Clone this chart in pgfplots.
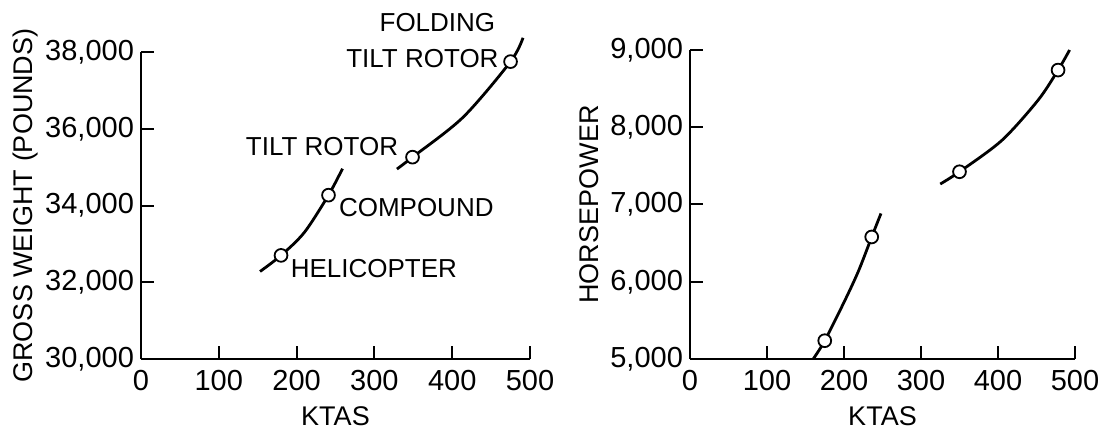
\documentclass[border=0pt]{standalone}
\usepackage{fontspec}
\setmainfont{Liberation Sans}
\usepackage{pgfplots}
\pgfplotsset{compat=1.18}

\pgfplotsset{
  panel/.style={
    scale only axis, anchor=south west, clip=false,
    axis lines=left, axis line style={-, line width=1pt},
    tick style={line width=1pt, black}, major tick length=6.5pt,
    tick align=inside, tick pos=left,
    xmin=0, xmax=500, xtick={0,100,...,500},
    scaled y ticks=false,
    tick label style={font=\fontsize{14.5}{16}\selectfont},
    xticklabel style={yshift=-2pt},
    label style={font=\fontsize{13.5}{15}\selectfont},
    /pgf/number format/assume math mode=true,
    /pgf/number format/1000 sep={,},
    xlabel=KTAS,
    xlabel style={at={(axis description cs:0.5,-0.185)}, anchor=center},
  },
  curve/.style={black, line width=1.4pt, smooth, no marks},
  pts/.style={only marks, mark=*, mark size=3.2pt,
    mark options={fill=white, draw=black, line width=0.9pt}},
}
\tikzset{lbl/.style={inner sep=0pt, font=\fontsize{13}{15}\selectfont}}

\begin{document}
\begin{tikzpicture}
\path[use as bounding box] (0,0) rectangle (549pt,216.5pt);

% gross weight
\begin{axis}[panel, at={(70.5pt,37pt)}, width=194.5pt, height=153.5pt,
  ymin=30000, ymax=38000, ytick={30000,32000,...,38000},
  ylabel={GROSS WEIGHT (POUNDS)},
  ylabel style={at={(axis description cs:-0.298,0.5)}, anchor=center},
]
\addplot[curve] coordinates {
  (153,32280) (180,32700) (210,33300) (241,34270) (259,34960)
};
\addplot[curve] coordinates {
  (329,34950) (349,35260) (414,36300) (475,37750) (491,38370)
};
\addplot[pts] coordinates {
  (180,32700) (241,34270) (349,35260) (475,37750)
};
\node[lbl, anchor=center] at (axis cs:381,38760) {FOLDING};
\node[lbl, anchor=east] at (axis cs:460,37840) {TILT ROTOR};
\node[lbl, anchor=east] at (axis cs:331,35525) {TILT ROTOR};
\node[lbl, anchor=west] at (axis cs:254,33935) {COMPOUND};
\node[lbl, anchor=west] at (axis cs:192,32345) {HELICOPTER};
\end{axis}

% horsepower
\begin{axis}[panel, at={(345pt,37pt)}, width=192.5pt, height=154.5pt,
  ymin=5000, ymax=9000, ytick={5000,6000,...,9000},
  ylabel={HORSEPOWER},
  ylabel style={at={(axis description cs:-0.263,0.5)}, anchor=center},
]
\addplot[curve] coordinates {
  (160,5000) (175,5237) (201,5755) (219,6143) (236,6580) (248,6884)
};
\addplot[curve] coordinates {
  (325,7265) (350,7424) (405,7830) (452,8350) (478,8740) (493,9000)
};
\addplot[pts] coordinates {
  (175,5237) (236,6580) (350,7424) (478,8740)
};
\end{axis}
\end{tikzpicture}
\end{document}
